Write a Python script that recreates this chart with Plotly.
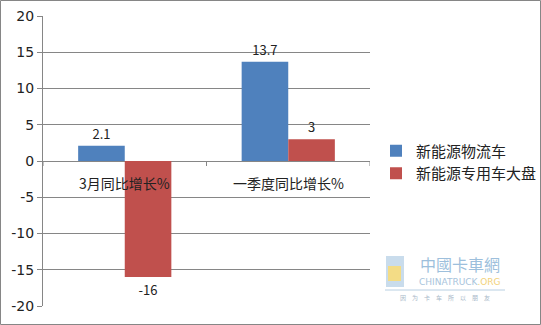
import plotly.graph_objects as go

categories = ["3月同比增长%", "一季度同比增长%"]
series_names = ["新能源物流车", "新能源专用车大盘"]
logistics = [2.1, 13.7]
special = [-16, 3]
colors = ["#4F81BD", "#C0504D"]
ytick_vals = [-20, -15, -10, -5, 0, 5, 10, 15, 20]
ytick_text = [str(v) for v in ytick_vals]

W, H = 541, 325
L, R, T, B = 43, 171, 16, 19
pw, ph = W - L - R, H - T - B

def px(x):
    return (x - L) / pw

def py(y):
    return (H - B - y) / ph

font = "Noto Sans CJK SC, Microsoft YaHei, sans-serif"

fig = go.Figure()
for i, (name, vals, col) in enumerate(zip(series_names, [logistics, special], colors)):
    fig.add_trace(go.Bar(
        x=categories, y=vals, name=name, marker_color=col,
        marker_line_width=0, legendgroup=f"g{i}",
        text=[f"{v:g}" for v in vals], textposition="outside",
        textfont=dict(size=13, color="#222"), cliponaxis=False,
    ))

annotations = []
for c in categories:
    annotations.append(dict(x=c, y=0, xref="x", yref="y", text=c, showarrow=False,
                            yanchor="top", yshift=-10, font=dict(size=14, color="#222", family=font)))

# watermark
wm = dict(xref="paper", yref="paper", showarrow=False, xanchor="center", yanchor="middle")
annotations += [
    dict(wm, x=px(460), y=py(264), text="中國卡車網",
         font=dict(size=16, color="#9dbfdc", family=font)),
    dict(wm, x=px(460), y=py(282),
         text="CHINATRUCK<span style='color:#f2d27a'>.ORG</span>",
         font=dict(size=9, color="#a8c4dc", family="DejaVu Sans")),
    dict(wm, x=px(445), y=py(297), text="因　为　卡　车　所　以　朋　友",
         font=dict(size=6, color="#a8b8c8", family=font)),
]

shapes = [
    dict(type="rect", xref="paper", yref="paper", x0=px(0.5), x1=px(540.5), y0=py(0.5), y1=py(324.5),
         line=dict(color="#868686", width=1), fillcolor="rgba(0,0,0,0)", layer="above"),
    dict(type="line", xref="paper", yref="paper", x0=px(385), x1=px(505), y0=py(290), y1=py(290),
         line=dict(color="#b8cfe2", width=1)),
    dict(type="rect", xref="paper", yref="paper", x0=px(386), x1=px(404), y0=py(256), y1=py(287),
         line=dict(width=0), fillcolor="#c9dcec"),
    dict(type="rect", xref="paper", yref="paper", x0=px(388), x1=px(401), y0=py(266), y1=py(281),
         line=dict(width=0), fillcolor="#f3dc86"),
]
shapes += [dict(type="line", xref="x", yref="y", x0=xv, x1=xv, ysizemode="pixel",
                yanchor=0, y0=0, y1=-5, line=dict(color="#868686", width=1))
           for xv in [-0.5, 0.5, 1.5]]

fig.update_layout(
    width=W, height=H, margin=dict(l=L, r=R, t=T, b=B, autoexpand=False),
    paper_bgcolor="white", plot_bgcolor="white",
    font=dict(family=font, size=13, color="#222"),
    barmode="group", bargap=0.43, bargroupgap=0,
    showlegend=True,
    legend=dict(xref="container", yref="container", x=376 / W, y=1 - 162 / H,
                xanchor="left", yanchor="middle",
                font=dict(size=15, color="#222"), tracegroupgap=11,
                itemwidth=30, traceorder="normal", bgcolor="rgba(0,0,0,0)"),
    xaxis=dict(showticklabels=False, showgrid=False, zeroline=False, showline=False,
               range=[-0.5, 1.5], fixedrange=True, automargin=False),
    yaxis=dict(range=[-20, 20], tickmode="array", tickvals=ytick_vals, ticktext=ytick_text,
               showgrid=True, gridcolor="#868686", gridwidth=1, automargin=False,
               zeroline=True, zerolinecolor="#868686", zerolinewidth=1,
               showline=True, linecolor="#868686", linewidth=1,
               ticks="outside", ticklen=5, tickcolor="#868686",
               tickfont=dict(size=14, color="#222", family="DejaVu Sans, sans-serif")),
    annotations=annotations, shapes=shapes,
)

fig.write_html("out.html")
